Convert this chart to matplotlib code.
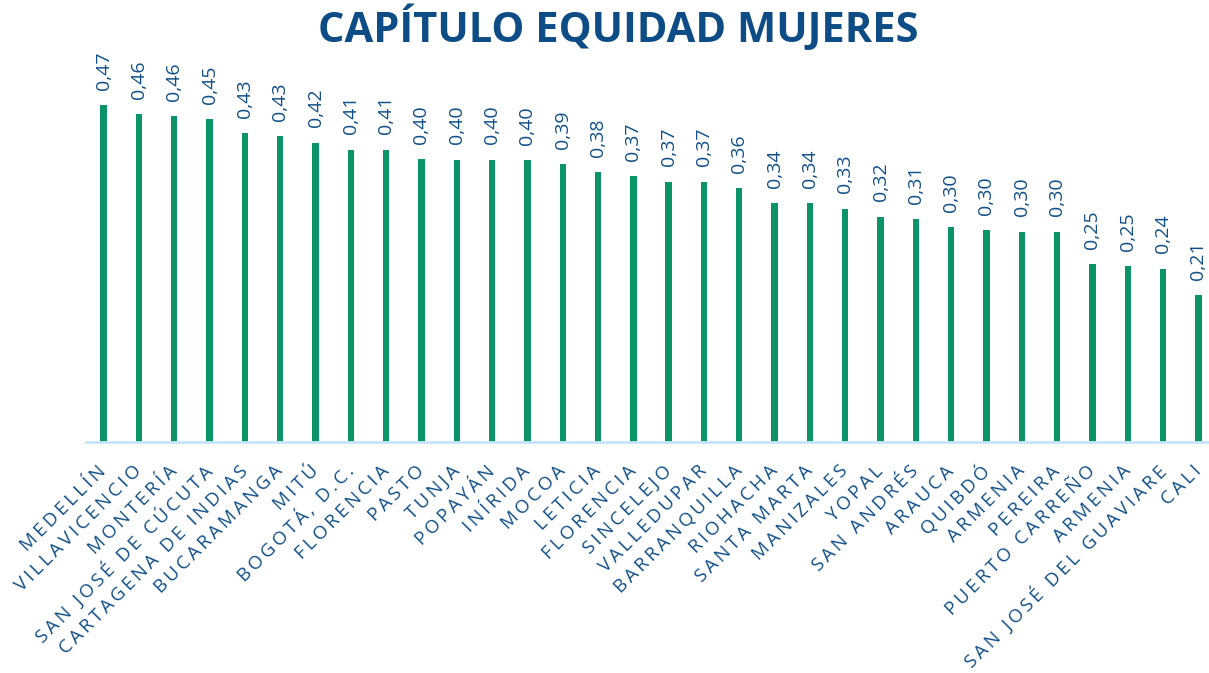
import matplotlib
matplotlib.use("Agg")
import matplotlib.pyplot as plt
import numpy as np

plt.rcParams['font.family'] = ['Open Sans', 'DejaVu Sans']

# ciudades e indice del capitulo equidad mujeres
ciudades = ["MEDELLÍN", "VILLAVICENCIO", "MONTERÍA", "SAN JOSÉ DE CÚCUTA",
            "CARTAGENA DE INDIAS", "BUCARAMANGA", "MITÚ", "BOGOTÁ, D.C.",
            "FLORENCIA", "PASTO", "TUNJA", "POPAYÁN", "INÍRIDA", "MOCOA",
            "LETICIA", "FLORENCIA", "SINCELEJO", "VALLEDUPAR", "BARRANQUILLA",
            "RIOHACHA", "SANTA MARTA", "MANIZALES", "YOPAL", "SAN ANDRÉS",
            "ARAUCA", "QUIBDÓ", "ARMENIA", "PEREIRA", "PUERTO CARREÑO",
            "ARMENIA", "SAN JOSÉ DEL GUAVIARE", "CALI"]
valores = [0.474, 0.461, 0.458, 0.454, 0.434, 0.430, 0.421, 0.411,
           0.411, 0.398, 0.397, 0.397, 0.396, 0.391, 0.380, 0.374,
           0.366, 0.366, 0.357, 0.336, 0.336, 0.328, 0.317, 0.313,
           0.302, 0.298, 0.296, 0.296, 0.250, 0.247, 0.244, 0.207]

verde = '#0a9468'
azul = '#114f88'

fig = plt.figure(figsize=(12.09, 6.73), dpi=100)
ax = fig.add_axes([0.0711, 0.3432, 0.9347, 0.634])

x = np.arange(len(ciudades))
ax.bar(x, valores, width=0.18, color=verde, zorder=2)

# etiquetas de valor con coma decimal
for xi, v in zip(x, valores):
    ax.annotate(f"{v:.2f}".replace('.', ','), (xi, v), xytext=(0, 11),
                textcoords='offset points', rotation=90, ha='center',
                va='bottom', fontsize=14, color=azul)

ax.set_xlim(-0.5, len(ciudades) - 0.5)
ax.set_ylim(0, 0.6)

# letras espaciadas en los nombres de las ciudades
espaciado = [('\u2009'.join(c)) for c in ciudades]
ax.set_xticks(x)
ax.set_xticklabels(espaciado, rotation=45, ha='right', va='center',
                   rotation_mode='anchor', fontsize=13.5, color=azul)
ax.tick_params(axis='x', length=0, pad=19)
ax.set_yticks([])

for lado in ['left', 'right', 'top']:
    ax.spines[lado].set_visible(False)
ax.spines['bottom'].set_color('#c8e4f8')
ax.spines['bottom'].set_linewidth(2)

fig.text(0.511, 0.958, "CAPÍTULO EQUIDAD MUJERES", ha='center', va='center',
         fontsize=30, fontweight='bold', color='#0e4c85')

fig.savefig('out.png', dpi=100)
